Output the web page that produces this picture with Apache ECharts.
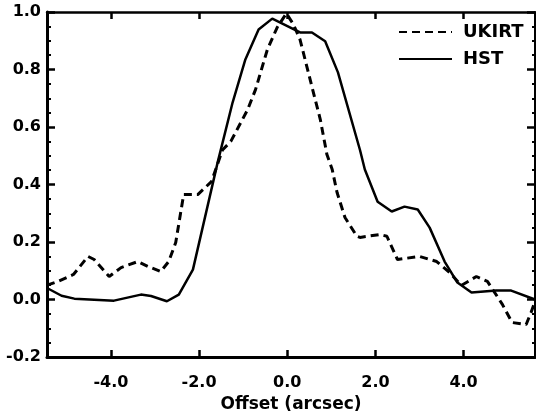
<!DOCTYPE html>
<html>
<head>
<meta charset="utf-8">
<script src="https://cdn.jsdelivr.net/npm/echarts@6/dist/echarts.min.js"></script>
<style>
html,body{margin:0;padding:0;background:#fff;}
#chart{width:536px;height:412px;}
</style>
</head>
<body>
<div id="chart"></div>
<script>
// ---- data ----
var ukirtX = [-5.45, -5.2, -4.85, -4.52, -4.38, -4.04, -3.77, -3.39, -3.16, -2.87, -2.69, -2.53, -2.35, -2.03, -1.72, -1.47, -1.28, -1.24, -0.9, -0.72, -0.45, -0.23, -0.02, 0.14, 0.29, 0.56, 0.75, 0.9, 1.02, 1.13, 1.31, 1.58, 1.65, 2.1, 2.26, 2.5, 3.0, 3.39, 3.68, 3.95, 4.29, 4.54, 4.88, 5.1, 5.42, 5.53, 5.62];
var ukirtY = [0.05, 0.063, 0.087, 0.15, 0.139, 0.08, 0.111, 0.132, 0.115, 0.097, 0.132, 0.198, 0.365, 0.365, 0.41, 0.52, 0.55, 0.546, 0.66, 0.73, 0.87, 0.946, 0.995, 0.957, 0.904, 0.74, 0.626, 0.504, 0.452, 0.372, 0.285, 0.22, 0.216, 0.226, 0.22, 0.139, 0.15, 0.132, 0.094, 0.049, 0.08, 0.063, -0.017, -0.08, -0.087, -0.045, -0.007];
var hstX = [-5.45, -5.12, -4.83, -3.93, -3.32, -3.09, -2.73, -2.46, -2.14, -1.58, -1.24, -0.95, -0.65, -0.34, 0.29, 0.56, 0.86, 1.15, 1.65, 1.76, 2.05, 2.37, 2.66, 2.96, 3.23, 3.57, 3.86, 4.18, 4.74, 5.08, 5.62];
var hstY = [0.04, 0.013, 0.003, -0.004, 0.017, 0.012, -0.006, 0.017, 0.104, 0.476, 0.685, 0.835, 0.939, 0.977, 0.929, 0.929, 0.898, 0.79, 0.52, 0.452, 0.34, 0.306, 0.323, 0.313, 0.25, 0.132, 0.059, 0.024, 0.031, 0.031, 0.0];
var xTicks = [-4, -2, 0, 2, 4];
var seriesNames = ['UKIRT', 'HST'];
var xTitle = 'Offset (arcsec)';

function pairs(xs, ys) { return xs.map(function (x, i) { return [x, ys[i]]; }); }

var FONT = 'DejaVu Sans';
var chart = echarts.init(document.getElementById('chart'), null, {renderer: 'canvas'});
chart.setOption({
  animation: false,
  backgroundColor: '#fff',
  grid: {left: 47, right: 1, top: 12, bottom: 55, containLabel: false, outerBoundsMode: 'none'},
  legend: {
    orient: 'vertical',
    left: 393, top: 18,
    itemWidth: 53, itemHeight: 14, itemGap: 9,
    itemStyle: {color: 'rgba(0,0,0,0)', borderWidth: 0, opacity: 0},
    textStyle: {fontFamily: FONT, fontWeight: 'bold', fontSize: 18, color: '#000', padding: [0, 0, 0, 6]},
    data: seriesNames
  },
  xAxis: [{
    type: 'value', min: -5.45, max: 5.62, position: 'bottom',
    name: xTitle, nameLocation: 'middle', nameGap: 36,
    nameTextStyle: {fontFamily: FONT, fontWeight: 'bold', fontSize: 17, color: '#000'},
    axisLine: {show: true, onZero: false, lineStyle: {color: '#000', width: 3}},
    axisTick: {show: true, inside: true, length: 7, lineStyle: {color: '#000', width: 2.5}, customValues: xTicks},
    axisLabel: {customValues: xTicks, margin: 18, fontFamily: FONT, fontWeight: 'bold', fontSize: 16, color: '#000',
      formatter: function (v) { return v.toFixed(1); }},
    splitLine: {show: false}
  }, {
    type: 'value', min: -5.45, max: 5.62, position: 'top',
    axisLine: {show: true, onZero: false, lineStyle: {color: '#000', width: 2.5}},
    axisTick: {show: true, inside: true, length: 7, lineStyle: {color: '#000', width: 2.5}, customValues: xTicks},
    axisLabel: {show: false},
    splitLine: {show: false}
  }],
  yAxis: [{
    type: 'value', min: -0.2, max: 1.0, interval: 0.2, position: 'left',
    axisLine: {show: true, onZero: false, lineStyle: {color: '#000', width: 3}},
    axisTick: {show: true, inside: true, length: 8, lineStyle: {color: '#000', width: 2.5}},
    minorTick: {show: true, splitNumber: 4, length: 4, lineStyle: {color: '#000', width: 2}},
    axisLabel: {margin: 6, fontFamily: FONT, fontWeight: 'bold', fontSize: 16, color: '#000',
      formatter: function (v) { return v.toFixed(1); }},
    splitLine: {show: false}
  }, {
    type: 'value', min: -0.2, max: 1.0, interval: 0.2, position: 'right',
    axisLine: {show: true, onZero: false, lineStyle: {color: '#000', width: 2}},
    axisTick: {show: true, inside: true, length: 8, lineStyle: {color: '#000', width: 2.5}},
    minorTick: {show: true, splitNumber: 4, length: 3, lineStyle: {color: '#000', width: 2}},
    axisLabel: {show: false},
    splitLine: {show: false}
  }],
  series: [{
    name: seriesNames[0], type: 'line', symbol: 'none', smooth: false,
    data: pairs(ukirtX, ukirtY),
    lineStyle: {color: '#000', width: 3, type: [8, 5]},
    itemStyle: {color: '#000'}
  }, {
    name: seriesNames[1], type: 'line', symbol: 'none', smooth: false,
    data: pairs(hstX, hstY),
    lineStyle: {color: '#000', width: 2.5, type: 'solid'},
    itemStyle: {color: '#000'}
  }]
});
</script>
</body>
</html>
